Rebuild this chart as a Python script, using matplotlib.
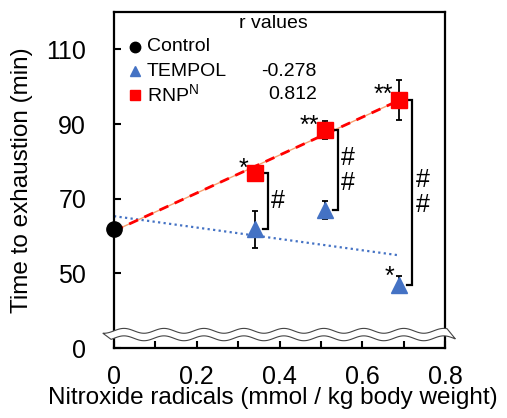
import matplotlib
matplotlib.use('Agg')
import matplotlib.pyplot as plt
import numpy as np

plt.rcParams['font.family'] = ['Liberation Sans', 'DejaVu Sans']
plt.rcParams['mathtext.fontset'] = 'custom'
plt.rcParams['mathtext.rm'] = 'Liberation Sans'

# data
dose = [0.34, 0.51, 0.69]          # mmol / kg body weight
control_x = 0.0
control_y = 62.0
tempol_y = [61.8, 67.0, 47.0]
tempol_err = [4.9, 2.5, 2.3]
rnp_y = [76.8, 88.3, 96.5]
rnp_err = [2.0, 2.4, 5.4]
r_values = ['-0.278', '0.812']
rnp_stars = ['*', '**', '**']
tempol_stars = ['', '', '*']
hash_marks = ['#', '#\n#', '#\n#']
ytick_pos = [30, 50, 70, 90, 110]
ytick_lab = ['0', '50', '70', '90', '110']
xtick_pos = [0, 0.2, 0.4, 0.6, 0.8]
xtick_lab = ['0', '0.2', '0.4', '0.6', '0.8']
legend_labels = ['Control', 'TEMPOL', 'RNP$^{\\mathrm{N}}$']

blue = '#4472c4'
red = '#ff0000'

fig = plt.figure(figsize=(5.07, 4.18), dpi=100)
ax = fig.add_axes([114/507, 70/418, 331/507, 336/418])
ax.set_xlim(0, 0.8)
ax.set_ylim(30, 120)

# trend lines (least squares through control + dose points)
xs = np.array([control_x] + dose)
bfit = np.polyfit(xs, [control_y] + tempol_y, 1)
rfit = np.polyfit(xs, [control_y] + rnp_y, 1)
xx = np.array([0, dose[-1]])
ax.plot(xx, np.polyval(bfit, xx), color=blue, ls=(0, (1, 1.5)), lw=1.6, zorder=2)
ax.plot(xx, np.polyval(rfit, xx), color='#f8a070', lw=1.0, zorder=2)
ax.plot(xx, np.polyval(rfit, xx), color=red, ls=(0, (3.5, 2.5)), lw=2.0, zorder=2)

# error bars
ax.errorbar(dose, tempol_y, yerr=tempol_err, fmt='none', ecolor='black',
            elinewidth=1.3, capsize=2.5, capthick=1.3, zorder=3)
ax.errorbar(dose, rnp_y, yerr=rnp_err, fmt='none', ecolor='black',
            elinewidth=1.3, capsize=2.5, capthick=1.3, zorder=3)

# points
ax.plot(dose, tempol_y, ls='none', marker='^', ms=11, color=blue, zorder=4)
ax.plot(dose, rnp_y, ls='none', marker='s', ms=11, color=red, zorder=4)
ax.plot([control_x], [control_y], ls='none', marker='o', ms=11, color='black',
        zorder=6, clip_on=False)

# significance stars
for x, y, s in zip(dose, rnp_y, rnp_stars):
    ax.annotate(s, (x, y), xytext=(-4.5, 3.5), textcoords='offset points',
                ha='right', va='center', fontsize=18)
for x, y, s in zip(dose, tempol_y, tempol_stars):
    if s:
        ax.annotate(s, (x, y), xytext=(-3.5, 5.5), textcoords='offset points',
                    ha='right', va='center', fontsize=18)

# brackets between RNP and TEMPOL at each dose
for x, yt, yb, h in zip(dose, rnp_y, tempol_y, hash_marks):
    bx = x + 0.031
    ax.plot([bx - 0.012, bx, bx, bx - 0.012], [yt, yt, yb, yb], color='black',
            lw=1.6, zorder=3, solid_joinstyle='miter')
    ax.text(bx + 0.008, (yt + yb) / 2, h, ha='left', va='center', fontsize=18,
            linespacing=1.05)

# axis break squiggle
wx = np.linspace(-0.027, 0.805, 400)
wx2 = wx + 0.02
up = 34.6 + 0.65 * np.sin(2 * np.pi * wx / 0.0966)
lo = 32.6 + 0.65 * np.sin(2 * np.pi * wx2 / 0.0966)
px = np.concatenate([wx, wx2[::-1]])
py = np.concatenate([up, lo[::-1]])
ax.fill(px, py, facecolor='white', edgecolor='#444444', lw=0.8, zorder=5,
        clip_on=False)

# axes styling
for sp in ax.spines.values():
    sp.set_linewidth(1.6)
ax.set_xticks(xtick_pos)
ax.set_xticklabels(xtick_lab)
ax.set_xticks(np.arange(0.1, 0.8, 0.2), minor=True)
ax.set_yticks(ytick_pos)
ax.set_yticklabels(ytick_lab)
ax.tick_params(axis='x', which='both', direction='in', length=5, width=1.5,
               labelsize=18, pad=12)
ax.tick_params(axis='y', direction='in', length=5, width=1.5, labelsize=18, pad=20)
ax.tick_params(top=False, right=False)

ax.set_xlabel('Nitroxide radicals (mmol / kg body weight)', fontsize=17.5)
ax.xaxis.set_label_coords(0.48, -0.115)
ax.set_ylabel('Time to exhaustion (min)', fontsize=17.5)
ax.yaxis.set_label_coords(-0.245, 0.5)

# legend with r values, rows placed by hand
rows = [0.896, 0.824, 0.753]
leg_style = [dict(marker='o', color='black'), dict(marker='^', color=blue),
             dict(marker='s', color=red)]
for yr, lab, st in zip(rows, legend_labels, leg_style):
    ax.plot([0.0634], [yr], ls='none', ms=7.5, transform=ax.transAxes,
            clip_on=False, **st)
    ax.text(0.100, yr, lab, transform=ax.transAxes, ha='left', va='center',
            fontsize=14)
ax.text(0.48, 0.967, 'r values', transform=ax.transAxes, ha='center',
        va='center', fontsize=14)
for yr, r in zip(rows[1:], r_values):
    ax.text(0.613, yr, r, transform=ax.transAxes, ha='right',
            va='center', fontsize=14)

plt.savefig('out.png', dpi=100)
